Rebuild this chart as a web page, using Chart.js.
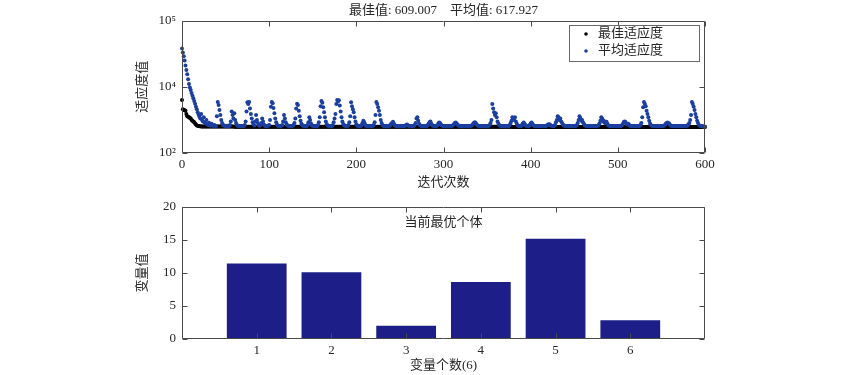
<!DOCTYPE html>
<html lang="zh">
<head>
<meta charset="UTF-8">
<title>适应度曲线与当前最优个体</title>
<script src="https://cdn.jsdelivr.net/npm/chart.js@4"></script>
<style>
  body { margin: 0; background: #fff; }
  .box { position: absolute; left: 0; width: 850px; }
  #top { top: 0; height: 193px; }
  #bottom { top: 193px; height: 182px; }
</style>
</head>
<body>
<div class="box" id="top"><canvas id="fitChart"></canvas></div>
<div class="box" id="bottom"><canvas id="varChart"></canvas></div>
<script>
// best fitness per iteration (0..600)
const bestFit = [
  4000, 2100, 2000, 1950, 1900, 1500, 1300, 1250, 1200, 1150, 1100, 1000, 950, 900, 850, 780, 720, 680, 660, 650,
  640, 638, 636, 635, 634, 633, 632, 632, 631, 631, 630, 630, 630, 629, 629, 629, 628, 628, 628, 628,
  627, 627, 627, 627, 627, 627, 627, 627, 627, 627, 627, 627, 627, 627, 627, 627, 627, 627, 627, 627,
  626, 626, 626, 626, 626, 626, 626, 626, 626, 626, 626, 626, 626, 626, 626, 626, 626, 626, 626, 626,
  626, 626, 626, 626, 626, 626, 626, 626, 626, 626, 625, 625, 625, 625, 625, 625, 625, 625, 625, 625,
  625, 625, 625, 625, 625, 625, 625, 625, 625, 625, 625, 625, 625, 625, 625, 625, 625, 625, 625, 625,
  624, 624, 624, 624, 624, 624, 624, 624, 624, 624, 624, 624, 624, 624, 624, 624, 624, 624, 624, 624,
  624, 624, 624, 624, 624, 624, 624, 624, 624, 624, 623, 623, 623, 623, 623, 623, 623, 623, 623, 623,
  623, 623, 623, 623, 623, 623, 623, 623, 623, 623, 623, 623, 623, 623, 623, 623, 623, 623, 623, 623,
  622, 622, 622, 622, 622, 622, 622, 622, 622, 622, 622, 622, 622, 622, 622, 622, 622, 622, 622, 622,
  621, 621, 621, 621, 621, 621, 621, 621, 621, 621, 621, 621, 621, 621, 621, 621, 621, 621, 621, 621,
  621, 621, 621, 621, 621, 621, 621, 621, 621, 621, 620, 620, 620, 620, 620, 620, 620, 620, 620, 620,
  620, 620, 620, 620, 620, 620, 620, 620, 620, 620, 620, 620, 620, 620, 620, 620, 620, 620, 620, 620,
  619, 619, 619, 619, 619, 619, 619, 619, 619, 619, 619, 619, 619, 619, 619, 619, 619, 619, 619, 619,
  619, 619, 619, 619, 619, 619, 619, 619, 619, 619, 618, 618, 618, 618, 618, 618, 618, 618, 618, 618,
  618, 618, 618, 618, 618, 618, 618, 618, 618, 618, 618, 618, 618, 618, 618, 618, 618, 618, 618, 618,
  617, 617, 617, 617, 617, 617, 617, 617, 617, 617, 617, 617, 617, 617, 617, 617, 617, 617, 617, 617,
  617, 617, 617, 617, 617, 617, 617, 617, 617, 617, 616, 616, 616, 616, 616, 616, 616, 616, 616, 616,
  616, 616, 616, 616, 616, 616, 616, 616, 616, 616, 616, 616, 616, 616, 616, 616, 616, 616, 616, 616,
  615, 615, 615, 615, 615, 615, 615, 615, 615, 615, 615, 615, 615, 615, 615, 615, 615, 615, 615, 615,
  615, 615, 615, 615, 615, 615, 615, 615, 615, 615, 614, 614, 614, 614, 614, 614, 614, 614, 614, 614,
  614, 614, 614, 614, 614, 614, 614, 614, 614, 614, 614, 614, 614, 614, 614, 614, 614, 614, 614, 614,
  613, 613, 613, 613, 613, 613, 613, 613, 613, 613, 613, 613, 613, 613, 613, 613, 613, 613, 613, 613,
  613, 613, 613, 613, 613, 613, 613, 613, 613, 613, 612, 612, 612, 612, 612, 612, 612, 612, 612, 612,
  612, 612, 612, 612, 612, 612, 612, 612, 612, 612, 612, 612, 612, 612, 612, 612, 612, 612, 612, 612,
  611, 611, 611, 611, 611, 611, 611, 611, 611, 611, 611, 611, 611, 611, 611, 611, 611, 611, 611, 611,
  611, 611, 611, 611, 611, 611, 611, 611, 611, 611, 610, 610, 610, 610, 610, 610, 610, 610, 610, 610,
  610, 610, 610, 610, 610, 610, 610, 610, 610, 610, 610, 610, 610, 610, 610, 610, 610, 610, 610, 610,
  610, 610, 610, 610, 610, 610, 610, 610, 610, 610, 610, 610, 610, 610, 610, 610, 610, 610, 610, 610,
  609.3, 609.3, 609.3, 609.3, 609.3, 609.3, 609.3, 609.3, 609.3, 609.3, 609.3, 609.3, 609.3, 609.3, 609.3, 609.3, 609.3, 609.3, 609.3, 609.3,
  609.007
];

// mean fitness per iteration (0..600)
const meanFit = [
  38000, 33000, 29000, 25000, 21000, 18000, 15500, 13000, 11000, 9500, 8000, 6500, 5400, 4500, 3700, 3100, 2500, 2100, 1700, 1450,
  1250, 1100, 1500, 1000, 900, 1200, 850, 780, 1000, 740, 700, 820, 690, 680, 760, 670, 665, 700, 660, 655,
  1300, 3500, 2800, 2000, 1400, 1000, 800, 700, 672, 660, 655, 650, 662, 654, 648, 700, 900, 1800, 1400, 1100,
  1600, 1000, 800, 700, 665, 655, 650, 658, 652, 648, 655, 650, 700, 900, 1800, 3400, 3000, 3500, 2200, 1500,
  1100, 850, 720, 680, 900, 1400, 1000, 800, 690, 660, 700, 800, 1100, 900, 730, 665, 652, 648, 655, 660,
  700, 1000, 2500, 3500, 3200, 2300, 1600, 1100, 850, 720, 670, 655, 650, 645, 660, 700, 900, 1400, 1100, 850,
  720, 680, 660, 650, 656, 648, 652, 660, 700, 800, 1100, 2200, 3100, 2800, 1900, 1300, 950, 760, 690, 665,
  655, 650, 646, 652, 700, 850, 1200, 1000, 780, 690, 660, 652, 648, 655, 650, 645, 700, 850, 1200, 2600,
  3700, 3300, 2400, 1700, 1200, 900, 740, 680, 660, 652, 648, 655, 650, 700, 850, 1100, 1500, 3000, 4000, 3600,
  3900, 2700, 1800, 1200, 900, 750, 690, 665, 654, 648, 660, 700, 850, 1300, 3400, 2600, 2100, 1700, 1200, 900,
  740, 680, 660, 652, 648, 655, 700, 800, 950, 850, 720, 670, 655, 650, 646, 652, 658, 650, 648, 660,
  700, 850, 1400, 3500, 3000, 2400, 1900, 1400, 1000, 800, 700, 665, 652, 648, 655, 650, 646, 652, 660, 700,
  760, 800, 880, 780, 700, 665, 652, 648, 655, 650, 646, 652, 658, 650, 647, 653, 660, 690, 720, 690,
  660, 650, 646, 652, 655, 648, 660, 700, 800, 1100, 1200, 950, 760, 690, 660, 652, 648, 655, 650, 646,
  652, 660, 700, 760, 850, 900, 760, 690, 660, 650, 646, 652, 655, 690, 760, 830, 800, 720, 680, 660,
  652, 648, 655, 650, 646, 652, 658, 650, 647, 653, 660, 690, 740, 800, 830, 780, 720, 680, 660, 652,
  648, 655, 650, 646, 652, 658, 650, 647, 653, 650, 646, 652, 660, 700, 760, 820, 850, 800, 720, 680,
  660, 652, 648, 655, 650, 646, 652, 658, 650, 647, 653, 650, 660, 700, 800, 1000, 3000, 2200, 1700, 1400,
  1600, 1200, 900, 760, 690, 660, 652, 648, 655, 650, 646, 652, 658, 650, 647, 660, 700, 800, 950, 1200,
  1100, 1000, 1200, 900, 760, 690, 660, 652, 648, 655, 700, 780, 830, 760, 690, 660, 652, 648, 655, 700,
  780, 830, 760, 690, 660, 652, 648, 655, 650, 646, 652, 658, 650, 647, 653, 650, 646, 652, 660, 690,
  720, 740, 720, 680, 660, 652, 648, 660, 700, 850, 1000, 1280, 1200, 1000, 1100, 900, 800, 720, 680, 660,
  652, 648, 655, 650, 646, 652, 658, 650, 647, 653, 650, 646, 660, 700, 800, 1000, 1280, 1150, 950, 1000,
  850, 760, 690, 660, 652, 648, 655, 650, 646, 652, 658, 650, 647, 653, 650, 646, 652, 660, 700, 780,
  950, 1200, 1100, 900, 950, 800, 830, 880, 760, 690, 660, 652, 648, 655, 650, 646, 652, 658, 650, 647,
  653, 650, 646, 652, 660, 700, 780, 880, 900, 850, 760, 720, 760, 700, 670, 655, 648, 652, 658, 650,
  647, 653, 650, 646, 652, 660, 700, 800, 1200, 2400, 3500, 3000, 2600, 1900, 1500, 1200, 950, 780, 690, 660,
  652, 648, 655, 650, 646, 652, 658, 650, 647, 653, 650, 646, 652, 660, 700, 760, 800, 830, 800, 760,
  700, 670, 655, 648, 652, 658, 650, 647, 653, 650, 646, 652, 658, 650, 647, 653, 650, 646, 652, 660,
  680, 720, 800, 1000, 1400, 3500, 3000, 2500, 2000, 1500, 1200, 950, 800, 700, 670, 655, 650, 646, 640, 625,
  617.927
];

const yTicks = [100, 10000, 100000];      // tick values, equally spaced as in the figure
const seriesNames = ['最佳适应度', '平均适应度'];
const topTitle = '最佳值: 609.007    平均值: 617.927';

const varIdx = [1, 2, 3, 4, 5, 6];
const varVals = [11.45, 10.1, 2.0, 8.65, 15.2, 2.85];
const barTitle = '当前最优个体';

const FONT = "'Liberation Serif', 'Noto Sans CJK SC', serif";
const TEXT = '#262626';
Chart.defaults.font.family = FONT;
Chart.defaults.font.size = 13;
Chart.defaults.color = TEXT;

// log axis whose listed ticks sit at equal distances (10^2 .. 10^4 .. 10^5)
class SplitLogScale extends Chart.LogarithmicScale {
  getPixelForValue(value) {
    const L = yTicks.map(Math.log10);
    const n = L.length - 1;
    const l = Math.log10(value > 0 ? value : this.min);
    let i = 0;
    while (i < n - 1 && l > L[i + 1]) i++;
    return this.getPixelForDecimal((i + (l - L[i]) / (L[i + 1] - L[i])) / n);
  }
  getValueForPixel(pixel) {
    const L = yTicks.map(Math.log10);
    const n = L.length - 1;
    const t = this.getDecimalForPixel(pixel) * n;
    const i = Math.min(Math.floor(t), n - 1);
    return Math.pow(10, L[i] + (t - i) * (L[i + 1] - L[i]));
  }
}
SplitLogScale.id = 'splitlog';
SplitLogScale.defaults = {};
Chart.register(SplitLogScale);

const sup = { '0': '⁰', '1': '¹', '2': '²', '3': '³', '4': '⁴', '5': '⁵', '6': '⁶' };
const powLabel = v => '10' + String(Math.round(Math.log10(v))).split('').map(c => sup[c]).join('');

// axes box with inward ticks on all four sides
const framePlugin = {
  id: 'frame',
  afterDatasetsDraw(chart) {
    const { ctx, chartArea: a } = chart;
    const xs = chart.scales.x, ys = chart.scales.y;
    const L = Math.round(a.left) + 0.5, R = Math.round(a.right) - 0.5;
    const T = Math.round(a.top) + 0.5, B = Math.round(a.bottom) - 0.5;
    ctx.save();
    ctx.strokeStyle = '#4a4a4a';
    ctx.lineWidth = 1;
    ctx.beginPath();
    xs.ticks.forEach(t => {
      const p = Math.round(xs.getPixelForValue(t.value)) + 0.5;
      ctx.moveTo(p, B); ctx.lineTo(p, B - 5);
      ctx.moveTo(p, T); ctx.lineTo(p, T + 5);
    });
    ys.ticks.forEach(t => {
      const p = Math.round(ys.getPixelForValue(t.value)) + 0.5;
      ctx.moveTo(L, p); ctx.lineTo(L + 5, p);
      ctx.moveTo(R, p); ctx.lineTo(R - 5, p);
    });
    ctx.rect(L, T, R - L, B - T);
    ctx.stroke();
    ctx.restore();
  }
};

// legend drawn inside the plot, upper right
const boxLegend = {
  id: 'boxLegend',
  afterDraw(chart) {
    const { ctx, chartArea: a } = chart;
    const w = 130, h = 36;
    const x0 = Math.round(a.right) - 6 - w, y0 = Math.round(a.top) + 4;
    ctx.save();
    ctx.fillStyle = '#fff';
    ctx.fillRect(x0, y0, w, h);
    ctx.strokeStyle = '#6a6a6a';
    ctx.lineWidth = 1;
    ctx.strokeRect(x0 + 0.5, y0 + 0.5, w, h);
    ctx.font = '13px ' + FONT;
    ctx.textBaseline = 'middle';
    ctx.textAlign = 'left';
    chart.data.datasets.forEach((ds, i) => {
      const cy = y0 + 9 + i * 17;
      ctx.fillStyle = ds.backgroundColor;
      ctx.beginPath();
      ctx.arc(x0 + 17, cy, 1.8, 0, Math.PI * 2);
      ctx.fill();
      ctx.fillStyle = TEXT;
      ctx.fillText(ds.label, x0 + 29, cy);
    });
    ctx.restore();
  }
};

// title text inside the bar plot
const innerTitle = {
  id: 'innerTitle',
  afterDraw(chart, args, opts) {
    const { ctx, chartArea: a } = chart;
    ctx.save();
    ctx.font = '13px ' + FONT;
    ctx.fillStyle = TEXT;
    ctx.textAlign = 'center';
    ctx.textBaseline = 'middle';
    ctx.fillText(opts.text, (a.left + a.right) / 2, a.top + 16);
    ctx.restore();
  }
};

const toPoints = arr => arr.map((v, i) => ({ x: i, y: v }));

new Chart(document.getElementById('fitChart'), {
  type: 'scatter',
  data: {
    datasets: [
      { label: seriesNames[0], data: toPoints(bestFit), backgroundColor: '#000', borderColor: '#000',
        pointRadius: 2, pointBorderWidth: 0, order: 2, clip: false },
      { label: seriesNames[1], data: toPoints(meanFit), backgroundColor: '#1b3fa0', borderColor: '#1b3fa0',
        pointRadius: 2, pointBorderWidth: 0, order: 1, clip: false }
    ]
  },
  options: {
    responsive: true,
    maintainAspectRatio: false,
    animation: false,
    devicePixelRatio: 1,
    events: [],
    layout: { padding: { left: 131, right: 145, top: 0, bottom: 0 } },
    plugins: {
      legend: { display: false },
      tooltip: { enabled: false },
      title: { display: true, text: topTitle, fullSize: false, color: TEXT,
               font: { size: 13, weight: 'normal' }, padding: { top: 3, bottom: 2 } }
    },
    scales: {
      x: {
        type: 'linear', min: 0, max: 600,
        ticks: { stepSize: 100, padding: 4, maxRotation: 0 },
        grid: { display: false, drawTicks: false },
        border: { display: false },
        title: { display: true, text: '迭代次数', padding: { top: 2, bottom: 3 } },
        afterFit: s => { s.height = 40; }
      },
      y: {
        type: 'splitlog', min: yTicks[0], max: yTicks[yTicks.length - 1],
        afterBuildTicks: s => { s.ticks = yTicks.map(v => ({ value: v })); },
        ticks: { callback: v => powLabel(v), padding: 6 },
        grid: { display: false, drawTicks: false },
        border: { display: false },
        title: { display: true, text: '适应度值', padding: { top: 4, bottom: 2 } },
        afterFit: s => { s.width = 51; }
      }
    }
  },
  plugins: [framePlugin, boxLegend]
});

new Chart(document.getElementById('varChart'), {
  type: 'bar',
  data: {
    datasets: [
      { data: varIdx.map((k, i) => ({ x: k, y: varVals[i] })), backgroundColor: '#1d1e87',
        borderWidth: 0, barPercentage: 0.8, categoryPercentage: 1.0 }
    ]
  },
  options: {
    responsive: true,
    maintainAspectRatio: false,
    animation: false,
    devicePixelRatio: 1,
    events: [],
    layout: { padding: { left: 131, right: 145, top: 14, bottom: 0 } },
    plugins: {
      legend: { display: false },
      tooltip: { enabled: false },
      innerTitle: { text: barTitle }
    },
    scales: {
      x: {
        type: 'linear', min: 0, max: varIdx.length + 1, offset: false,
        afterBuildTicks: s => { s.ticks = varIdx.map(v => ({ value: v })); },
        ticks: { padding: 4, maxRotation: 0 },
        grid: { display: false, drawTicks: false, offset: false },
        border: { display: false },
        title: { display: true, text: '变量个数(' + varIdx.length + ')', padding: { top: 2, bottom: 2 } },
        afterFit: s => { s.height = 36; }
      },
      y: {
        min: 0, max: 20,
        ticks: { stepSize: 5, padding: 6 },
        grid: { display: false, drawTicks: false },
        border: { display: false },
        title: { display: true, text: '变量值', padding: { top: 4, bottom: 2 } },
        afterFit: s => { s.width = 51; }
      }
    }
  },
  plugins: [framePlugin, innerTitle]
});
</script>
</body>
</html>
